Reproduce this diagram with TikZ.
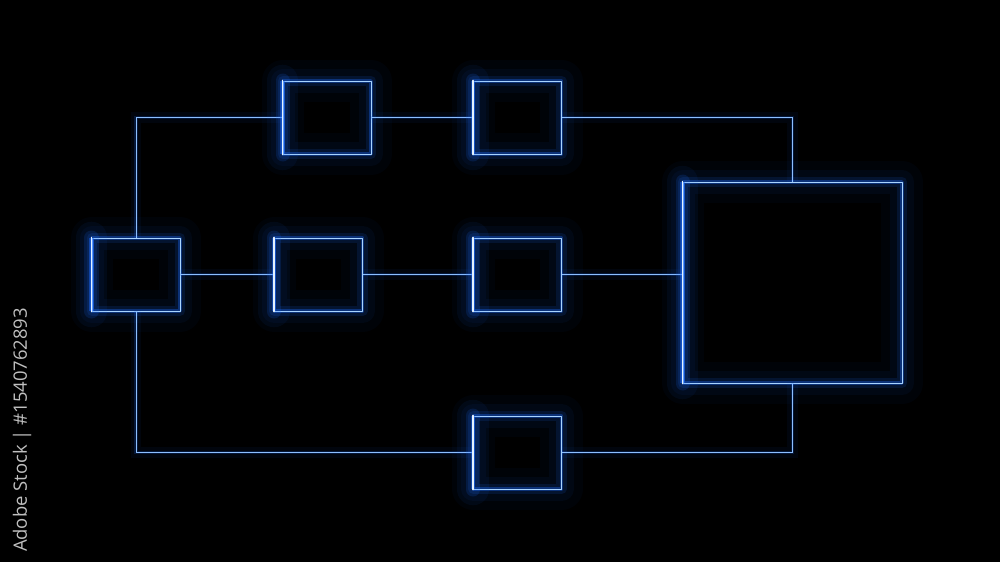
\documentclass[tikz,border=0pt]{standalone}
\usepackage{fontspec}
\newfontfamily\stockfont{Open Sans}
\definecolor{glowblue}{HTML}{1C6BFF}
\definecolor{coreblue}{HTML}{A8D4FF}
\tikzset{
  glow/.style={draw=coreblue, line width=0.55pt, line join=round,
    preaction={draw=glowblue, line width=24pt, opacity=0.03, line join=round},
    preaction={draw=glowblue, line width=14pt, opacity=0.05, line join=round},
    preaction={draw=glowblue, line width=6pt, opacity=0.12, line join=round},
    preaction={draw=glowblue, line width=2pt, opacity=0.35}},
  block/.style={glow, rectangle, minimum width=1.76cm, minimum height=1.46cm, inner sep=0pt},
  wire/.style={draw=coreblue!80!glowblue, line width=0.45pt,
    preaction={draw=glowblue, line width=6pt, opacity=0.05},
    preaction={draw=glowblue, line width=2pt, opacity=0.18}},
  edgeglow/.style={draw=white!70!coreblue, line width=0.9pt, line cap=round,
    preaction={draw=glowblue, line width=18pt, opacity=0.06, line cap=round},
    preaction={draw=glowblue, line width=8pt, opacity=0.15, line cap=round},
    preaction={draw=glowblue, line width=2.5pt, opacity=0.45}}
}
\begin{document}
\begin{tikzpicture}[x=0.02cm, y=-0.02cm]
    \fill[black] (0,0) rectangle (1000,562);
    \useasboundingbox (0,0) rectangle (1000,562);

    \node[block] (a) at (136,274.5) {};
    \node[block] (b) at (327,117.5) {};
    \node[block] (c) at (517.5,117.5) {};
    \node[block] (d) at (318.5,274.5) {};
    \node[block] (e) at (517.5,274.5) {};
    \node[block, minimum width=4.38cm, minimum height=4.02cm] (f) at (792.5,282.5) {};
    \node[block] (g) at (517.5,452.5) {};

    % connectors
    \path[wire] (a.north) |- (b.west);
    \path[wire] (b.east) -- (c.west);
    \path[wire] (c.east) -| (f.north);
    \path[wire] (a.east) -- (d.west);
    \path[wire] (d.east) -- (e.west);
    \path[wire] (e.east) -- (e.east -| f.west);
    \path[wire] (a.south) |- (g.west);
    \path[wire] (g.east) -| (f.south);

    % brighter left sides
    \foreach \b in {a,b,c,d,e,f,g}
        \path[edgeglow] (\b.north west) -- (\b.south west);

    \node[rotate=90, text=black!25, font=\stockfont\fontsize{10.5}{12}\selectfont] (id) at (22,430) {Adobe Stock | \#1540762893};
\end{tikzpicture}
\end{document}
